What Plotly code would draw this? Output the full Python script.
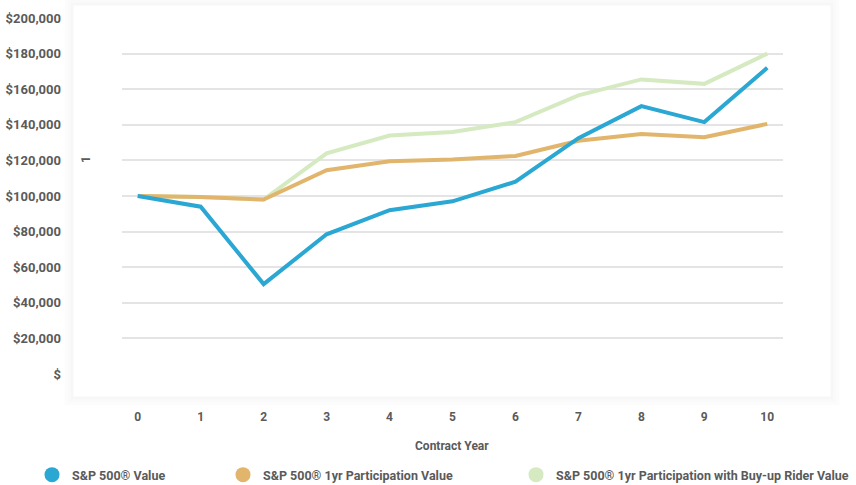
import plotly.graph_objects as go

years = [0, 1, 2, 3, 4, 5, 6, 7, 8, 9, 10]
sp500_value = [100000, 94000, 50500, 78500, 92000, 97000, 108000, 132500, 150500, 141500, 172000]
participation_value = [100000, 99500, 98000, 114500, 119500, 120500, 122500, 131000, 134800, 133000, 140500]
buyup_value = [100000, 99500, 98000, 124000, 134000, 136000, 141500, 156500, 165500, 163000, 180000]

y_ticks = [0, 20000, 40000, 60000, 80000, 100000, 120000, 140000, 160000, 180000, 200000]
y_tick_labels = ["$", "$20,000", "$40,000", "$60,000", "$80,000", "$100,000", "$120,000",
                 "$140,000", "$160,000", "$180,000", "$200,000"]

names = ["S&P 500® Value", "S&P 500® 1yr Participation Value",
         "S&P 500® 1yr Participation with Buy-up Rider Value"]
colors = ["#2aa7d3", "#e2b56c", "#d5eac0"]
series = [sp500_value, participation_value, buyup_value]

FONT = "Roboto"
TXT = "#5a5a5a"
PL, PR, PT, PB = 122, 73, 18, 111
W, H = 856, 485
PW = W - PL - PR
PH = H - PT - PB


def px_x(px):
    return (px - PL) / PW


def px_y(py):
    return (H - PB - py) / PH


fig = go.Figure()
for idx in [2, 1, 0]:
    fig.add_trace(go.Scatter(x=years, y=series[idx], mode="lines", name=names[idx],
                             line=dict(color=colors[idx], width=4), showlegend=False,
                             hoverinfo="x+y"))

legend_keys = ["legend", "legend2", "legend3"]
legend_left_px = [32, 223, 516]
for i in range(3):
    fig.add_trace(go.Scatter(x=[None], y=[None], mode="markers", name=names[i],
                             marker=dict(color=colors[i], size=15, symbol="circle"),
                             legend=legend_keys[i], showlegend=True))

leg_common = dict(orientation="h", y=px_y(475), yanchor="middle", xanchor="left",
                  bgcolor="rgba(0,0,0,0)", itemwidth=30,
                  font=dict(family=FONT, size=12.5, color=TXT, weight="bold"))

# soft card shadow
shapes = []
for pad, op in [(0, 0.03), (3, 0.02), (6, 0.012)]:
    shapes.append(dict(type="rect", xref="paper", yref="paper", layer="below",
                       x0=px_x(72 - pad), x1=px_x(832 + pad), y0=px_y(398 + pad), y1=px_y(4 - pad),
                       line=dict(color=f"rgba(0,0,0,{op})", width=3), fillcolor="rgba(0,0,0,0)"))

fig.update_layout(
    width=W, height=H,
    margin=dict(l=PL, r=PR, t=PT, b=PB, autoexpand=False),
    paper_bgcolor="white", plot_bgcolor="white",
    font=dict(family=FONT, color=TXT),
    legend=dict(x=px_x(legend_left_px[0]), **leg_common),
    legend2=dict(x=px_x(legend_left_px[1]), **leg_common),
    legend3=dict(x=px_x(legend_left_px[2]), **leg_common),
    xaxis=dict(range=[-0.25, 10.25], tickvals=years, ticktext=[str(y) for y in years],
               showgrid=False, zeroline=False, showline=False, ticks="",
               ticklabelstandoff=34, automargin=False,
               tickfont=dict(family=FONT, size=12, color=TXT, weight="bold")),
    yaxis=dict(range=[0, 200000], tickvals=y_ticks, ticktext=y_tick_labels,
               showgrid=True, gridcolor="#e4e4e4", gridwidth=2, zeroline=False,
               showline=False, ticks="", ticklabelstandoff=60, automargin=False,
               tickfont=dict(family=FONT, size=13, color=TXT, weight="bold")),
    shapes=shapes,
    annotations=[
        dict(text="Contract Year", xref="paper", yref="paper", x=px_x(452), y=px_y(446),
             xanchor="center", yanchor="middle",
             showarrow=False, font=dict(family=FONT, size=12, color=TXT, weight="bold")),
        dict(text="1", xref="paper", yref="paper", x=px_x(86), y=px_y(160), textangle=-90,
             xanchor="center", yanchor="middle",
             showarrow=False, font=dict(family=FONT, size=12, color=TXT, weight="bold")),
    ],
)

fig.write_html("out.html", config={"displayModeBar": False},
               post_script="document.body.style.margin='0';document.body.style.padding='0';")
